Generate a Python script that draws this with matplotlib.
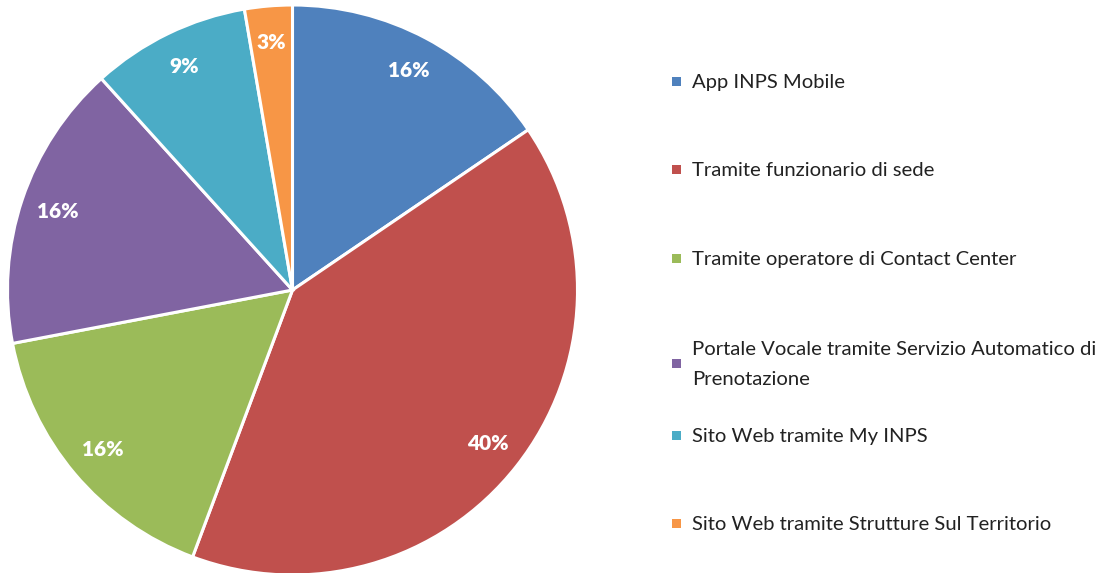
import matplotlib
matplotlib.use("Agg")
import matplotlib.pyplot as plt
from matplotlib.patches import Rectangle

categories = [
    "App INPS Mobile",
    "Tramite funzionario di sede",
    "Tramite operatore di Contact Center",
    "Portale Vocale tramite Servizio Automatico di\nPrenotazione",
    "Sito Web tramite My INPS",
    "Sito Web tramite Strutture Sul Territorio",
]
values = [15.5, 40.2, 16.3, 16.3, 9.0, 2.7]
colors = ["#4F81BD", "#C0504D", "#9BBB59", "#8064A2", "#4BACC6", "#F79646"]
legend_y = [81, 169, 258, 363, 435, 523]  # pixel centres of legend rows

W, H = 1102, 573
fig = plt.figure(figsize=(W / 100, H / 100), dpi=100)
plt.rcParams['font.family'] = ['Lato', 'DejaVu Sans']

cx, cy, r = 292.5, 290, 285
ax = fig.add_axes([(cx - r) / W, (H - cy - r) / H, 2 * r / W, 2 * r / H])
ax.pie(values, colors=colors, startangle=90, counterclock=False,
       autopct=lambda p: f"{p:.0f}%", pctdistance=0.87, radius=1,
       wedgeprops=dict(edgecolor="white", linewidth=2.2),
       textprops=dict(color="white", fontsize=15, fontweight="heavy"))
ax.set_xlim(-1, 1)
ax.set_ylim(-1, 1)
ax.set_aspect("equal")
ax.axis("off")

for lab, col, y in zip(categories, colors, legend_y):
    fig.patches.append(Rectangle(((672) / W, (H - y - 4.5) / H), 9 / W, 9 / H,
                                 transform=fig.transFigure, facecolor=col,
                                 edgecolor="none"))
    fig.text(692 / W, (H - y - 1.5) / H, lab, fontsize=14.6, color="#222222",
             va="center", ha="left", linespacing=1.95)

fig.savefig("out.png", dpi=100)
